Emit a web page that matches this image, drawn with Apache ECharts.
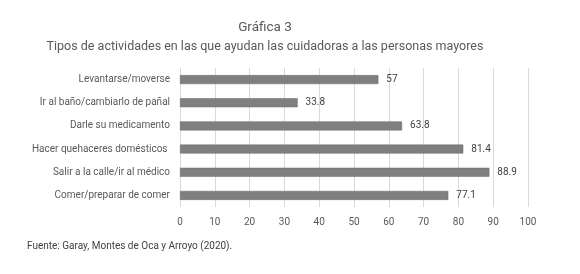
<!DOCTYPE html>
<html><head><meta charset="utf-8">
<script src="https://cdn.jsdelivr.net/npm/echarts@6/dist/echarts.min.js"></script>
<style>html,body{margin:0;padding:0;background:#fff}#c{width:580px;height:274px}</style>
</head><body><div id="c"></div>
<script>
const categories = ["Levantarse/moverse","Ir al baño/cambiarlo de pañal","Darle su medicamento","Hacer quehaceres domésticos ","Salir a la calle/ir al médico","Comer/preparar de comer"];
const values = [57, 33.8, 63.8, 81.4, 88.9, 77.1];
const xTicks = [0,10,20,30,40,50,60,70,80,90,100];
const FONT = "Roboto";
const chart = echarts.init(document.getElementById('c'), null, {renderer:'canvas'});
chart.setOption({
  animation:false,
  textStyle:{fontFamily:FONT},
  title:[
    {text:"Gráfica 3", left:260, textAlign:'center', top:16, textStyle:{fontFamily:FONT, fontSize:13.5, fontWeight:'normal', color:'#595959'}},
    {text:"Tipos de actividades en las que ayudan las cuidadoras a las personas mayores", left:260, textAlign:'center', top:35, textStyle:{fontFamily:FONT, fontSize:12.5, fontWeight:'normal', color:'#595959'}},
    {text:"Fuente: Garay, Montes de Oca y Arroyo (2020).", left:22, top:236, textStyle:{fontFamily:FONT, fontSize:10, fontWeight:'normal', color:'#404040'}}
  ],
  grid:{left:180, right:52, top:68, height:139, containLabel:false},
  xAxis:{type:'value', min:0, max:100, interval:10,
    axisLine:{show:false}, axisTick:{show:false},
    splitLine:{lineStyle:{color:'#d9d9d9', width:1}},
    axisLabel:{color:'#595959', fontSize:10, margin:10, fontFamily:FONT,
      formatter:v=>xTicks.includes(v)?String(v):''}},
  yAxis:{type:'category', data:categories, inverse:true,
    axisLine:{show:false}, axisTick:{show:false},
    axisLabel:{color:'#595959', fontSize:10, margin:10, fontFamily:FONT}},
  series:[{type:'bar', data:values, barWidth:9,
    itemStyle:{color:'#7f7f7f', borderColor:'#6b6b6b', borderWidth:0.5},
    label:{show:true, position:'right', distance:8, color:'#404040', fontSize:10, fontFamily:FONT}}]
});
</script></body></html>
